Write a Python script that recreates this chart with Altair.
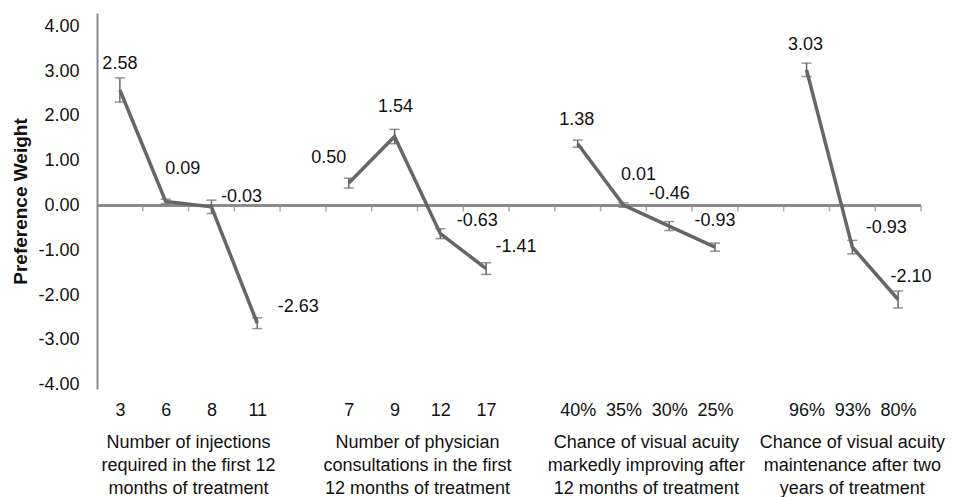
import json
import altair as alt
import pandas as pd

# ---- data ----
group_names = [
    "Number of injections\nrequired in the first 12\nmonths of treatment",
    "Number of physician\nconsultations in the first\n12 months of treatment",
    "Chance of visual acuity\nmarkedly improving after\n12 months of treatment",
    "Chance of visual acuity\nmaintenance after two\nyears of treatment",
]
levels = [
    ["3", "6", "8", "11"],
    ["7", "9", "12", "17"],
    ["40%", "35%", "30%", "25%"],
    ["96%", "93%", "80%"],
]
weights = [
    [2.58, 0.09, -0.03, -2.63],
    [0.50, 1.54, -0.63, -1.41],
    [1.38, 0.01, -0.46, -0.93],
    [3.03, -0.93, -2.10],
]
errors = [
    [0.27, 0.05, 0.15, 0.12],
    [0.11, 0.16, 0.11, 0.13],
    [0.08, 0.05, 0.10, 0.09],
    [0.15, 0.15, 0.19],
]

# ---- layout of the value labels (pixel offsets from each point) ----
label_dx = [[0, 17, 30, 41], [-20, 1, 37, 30], [-1, 15, 0, 0], [-1, 34, 13]]
label_dy = [[-26, -32, -10, -16], [-25, -30, -13, -22], [-24, -30, -32, -26], [-25, -19, -22]]

Y_MIN, Y_MAX = -4.1, 4.3
GRAY = "#666666"
AXIS_GRAY = "#8a8a8a"
TEXT = "#111111"
FONT = "Liberation Sans"

# build rows: one slot per level, one empty slot between groups
rows, slot_labels, group_rows = [], [], []
slot = 0
idx = 0
for g, (name, levs, ws, es) in enumerate(zip(group_names, levels, weights, errors)):
    if g > 0:
        slot_labels.append("")
        slot += 1
    xs = []
    for lev, w, e in zip(levs, ws, es):
        pos = slot + 0.5
        rows.append(dict(idx=idx, group=g, level=lev, pos=pos, w=w, lo=w - e, hi=w + e))
        slot_labels.append(lev)
        xs.append(pos)
        slot += 1
        idx += 1
    group_rows.append(dict(group=g, name=name, gx=sum(xs) / len(xs)))
n_slots = slot

df = pd.DataFrame(rows)
gdf = pd.DataFrame(group_rows)
tdf = pd.DataFrame({"t": list(range(1, n_slots + 1))})

flat_dx = [d for gr in label_dx for d in gr]
flat_dy = [d for gr in label_dy for d in gr]

xscale = alt.Scale(domain=[0, n_slots], nice=False, zero=False)
yscale = alt.Scale(domain=[Y_MIN, Y_MAX], nice=False, zero=False)

label_expr = json.dumps(slot_labels) + "[floor(datum.value)]"
num_expr = "(datum.value < 0 ? '-' : '') + format(abs(datum.value), '.2f')"

x_enc = alt.X(
    "pos:Q",
    scale=xscale,
    axis=alt.Axis(
        values=[r["pos"] for r in rows],
        labelExpr=label_expr,
        domain=False,
        ticks=False,
        grid=False,
        title=None,
        labelFontSize=18,
        labelColor=TEXT,
        labelPadding=12,
        labelOverlap=False,
        labelFlush=False,
    ),
)
y_enc = alt.Y(
    "w:Q",
    scale=yscale,
    axis=alt.Axis(
        values=list(range(-4, 5)),
        labelExpr=num_expr,
        title="Preference Weight",
        titleFontSize=19,
        titleFontWeight="bold",
        titleColor=TEXT,
        titlePadding=7,
        labelFontSize=18,
        labelColor=TEXT,
        labelPadding=18,
        ticks=False,
        tickSize=0,
        grid=False,
        domainColor=AXIS_GRAY,
        domainWidth=2,
    ),
)

base = alt.Chart(df).transform_calculate(
    txt="(datum.w < 0 ? '-' : '') + format(abs(datum.w), '.2f')"
)

lines = base.mark_line(color=GRAY, strokeWidth=3.5).encode(
    x=x_enc, y=y_enc, detail="group:N", order="pos:Q"
)
err_rules = base.mark_rule(color=GRAY, strokeWidth=1.5).encode(
    x="pos:Q", y="lo:Q", y2="hi:Q"
)
cap_lo = base.mark_tick(orient="horizontal", color=GRAY, size=10, thickness=1.5).encode(
    x="pos:Q", y="lo:Q"
)
cap_hi = base.mark_tick(orient="horizontal", color=GRAY, size=10, thickness=1.5).encode(
    x="pos:Q", y="hi:Q"
)
zero_line = alt.Chart(tdf).mark_rule(color=AXIS_GRAY, strokeWidth=1.5).encode(
    y=alt.datum(0)
)
zero_ticks = alt.Chart(tdf).mark_tick(
    orient="vertical", color=AXIS_GRAY, size=6, thickness=1.5, yOffset=3
).encode(x="t:Q", y=alt.datum(0))

value_labels = []
for i in range(len(rows)):
    value_labels.append(
        base.transform_filter(alt.datum.idx == i)
        .mark_text(
            dx=flat_dx[i], dy=flat_dy[i], fontSize=18, color=TEXT,
            align="center", baseline="middle",
        )
        .encode(x="pos:Q", y="w:Q", text="txt:N")
    )

group_labels = alt.Chart(gdf).mark_text(
    fontSize=18, color=TEXT, lineBreak="\n", lineHeight=23,
    align="center", baseline="top", dy=45,
).encode(x="gx:Q", y=alt.datum(Y_MIN), text="name:N")

chart = (
    alt.layer(zero_line, zero_ticks, lines, err_rules, cap_lo, cap_hi, *value_labels, group_labels)
    .properties(width=824, height=376, padding={"left": 3, "top": 5, "right": 5, "bottom": 0})
    .configure(font=FONT)
    .configure_view(stroke=None)
)

chart.save("out.html", embed_options={"renderer": "svg", "actions": False})
